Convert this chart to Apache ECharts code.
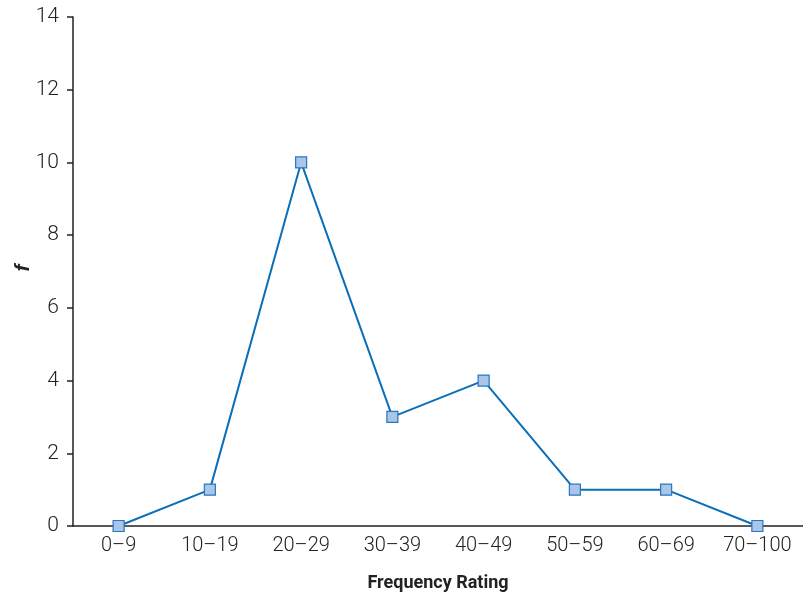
<!DOCTYPE html>
<html><head><meta charset="utf-8">
<script src="https://cdn.jsdelivr.net/npm/echarts@6/dist/echarts.min.js"></script>
<style>html,body{margin:0;padding:0;background:#fff}#c{width:803px;height:598px}</style>
</head><body><div id="c"></div>
<script>
const categories = ['0–9','10–19','20–29','30–39','40–49','50–59','60–69','70–100'];
const frequencies = [0, 1, 10, 3, 4, 1, 1, 0];
const yTicks = [0, 2, 4, 6, 8, 10, 12, 14];
const yTitle = 'f';

const chart = echarts.init(document.getElementById('c'));
chart.setOption({
  animation: false,
  grid: {left: 73, right: -2, top: 17, bottom: 72},
  graphic: [{
    type: 'text',
    x: 23, y: 268,
    rotation: Math.PI / 2,
    style: {text: yTitle, fontFamily: 'Liberation Sans', fontWeight: 'bold', fontStyle: 'italic', fontSize: 21, fill: '#222', align: 'center', verticalAlign: 'middle'}
  }],
  xAxis: {
    type: 'category',
    data: categories,
    name: 'Frequency Rating',
    nameLocation: 'middle',
    nameGap: 48,
    nameMoveOverlap: false,
    nameTextStyle: {fontFamily: 'Roboto', fontWeight: 'bold', fontSize: 18, color: '#222'},
    axisLine: {lineStyle: {color: '#222', width: 1.5}},
    axisTick: {show: false},
    axisLabel: {interval: 0, hideOverlap: false, fontFamily: 'Roboto', fontWeight: 300, fontSize: 20, color: '#222', margin: 10}
  },
  yAxis: {
    type: 'value',
    min: yTicks[0],
    max: yTicks[yTicks.length - 1],
    interval: 2,
    axisLine: {show: true, lineStyle: {color: '#222', width: 1.5}},
    axisTick: {show: true, length: 6, lineStyle: {color: '#222', width: 1.5}},
    splitLine: {show: false},
    axisLabel: {fontFamily: 'Roboto', fontWeight: 300, fontSize: 21, color: '#222', margin: 14}
  },
  series: [{
    type: 'line',
    data: frequencies,
    symbol: 'rect',
    symbolSize: 11,
    lineStyle: {color: '#0a6fb8', width: 2},
    itemStyle: {color: '#a9c5e8', borderColor: '#2876c0', borderWidth: 1.2}
  }]
});
</script></body></html>
